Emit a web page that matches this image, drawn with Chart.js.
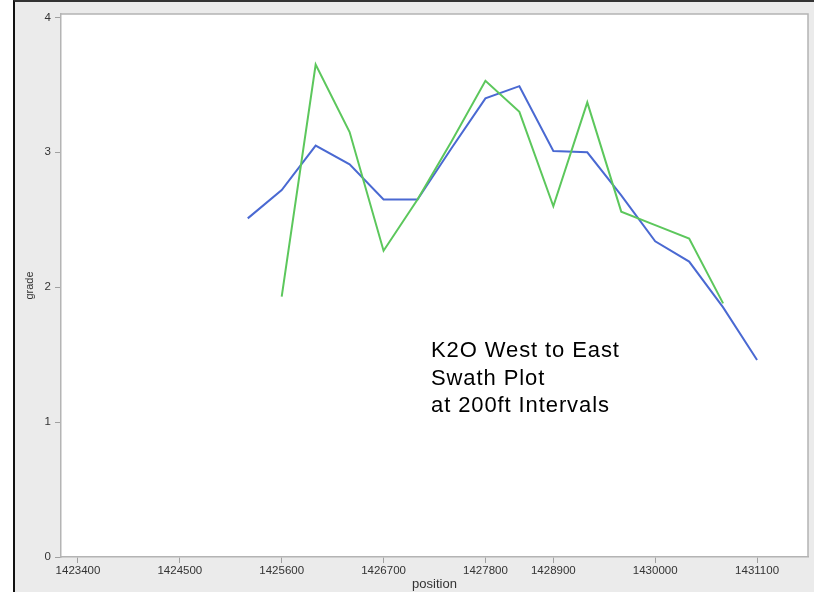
<!DOCTYPE html>
<html>
<head>
<meta charset="utf-8">
<script src="https://cdn.jsdelivr.net/npm/chart.js@4/dist/chart.umd.min.js"></script>
<style>
    body { margin: 0; background: #fff; }
    .wrap { position: relative; width: 814px; height: 592px; overflow: hidden; }
    .frame {
        position: absolute; left: 13px; top: 0; width: 801px; height: 592px;
        box-sizing: border-box; background: #ebebeb;
        border-left: 2px solid #111; border-top: 2px solid #333;
    }
    canvas { position: absolute; left: 0; top: 0; }
    .note {
        position: absolute; left: 431px; top: 336px;
        font: 22px "Liberation Sans", Arial, sans-serif; line-height: 27.5px;
        letter-spacing: 0.9px; color: #000;
    }
</style>
</head>
<body>
<div class="wrap">
    <div class="frame"></div>
    <canvas id="swath" width="814" height="592"></canvas>
    <div class="note">K2O West to East<br>Swath Plot<br>at 200ft Intervals</div>
</div>
<script>
// x tick labels and the sample slot each one sits on
const positionLabels = ['1423400', '1424500', '1425600', '1426700', '1427800', '1428900', '1430000', '1431100'];
const positionSlots = [0, 3, 6, 9, 12, 14, 17, 20];
const gradeTicks = [0, 1, 2, 3, 4];

// blue series starts at slot 5, green at slot 6
const blueStart = 5;
const blueGrade = [2.51, 2.72, 3.05, 2.91, 2.65, 2.65, 3.03, 3.40, 3.49, 3.01, 3.00, 2.68, 2.34, 2.19, 1.85, 1.46];
const greenStart = 6;
const greenGrade = [1.93, 3.65, 3.15, 2.27, 2.65, 3.08, 3.53, 3.30, 2.60, 3.37, 2.56, 2.46, 2.36, 1.88];

function toPoints(start, values) {
    return values.map((v, i) => ({ x: start + i, y: v }));
}

const plotBox = {
    id: 'plotBox',
    beforeDraw(chart) {
        const { ctx, chartArea: a } = chart;
        ctx.save();
        ctx.fillStyle = '#fff';
        ctx.fillRect(a.left, a.top, a.right - a.left, a.bottom - a.top);
        ctx.restore();
    },
    afterDraw(chart) {
        const { ctx, chartArea: a } = chart;
        ctx.save();
        ctx.strokeStyle = '#b4b4b4';
        ctx.lineWidth = 1.5;
        ctx.beginPath();
        ctx.moveTo(a.left, a.top);
        ctx.lineTo(a.right, a.top);
        ctx.lineTo(a.right, a.bottom);
        ctx.stroke();
        ctx.restore();
    }
};

const tickFont = { family: '"Liberation Sans", Arial, sans-serif', size: 11.5 };

new Chart(document.getElementById('swath'), {
    type: 'line',
    data: {
        datasets: [{
            data: toPoints(greenStart, greenGrade),
            borderColor: '#5cc75c',
            borderWidth: 2,
            pointRadius: 0,
            tension: 0
        }, {
            data: toPoints(blueStart, blueGrade),
            borderColor: '#4a69d2',
            borderWidth: 2,
            pointRadius: 0,
            tension: 0
        }]
    },
    options: {
        responsive: false,
        animation: false,
        layout: { padding: { left: 13, right: 6, top: 14, bottom: 0 } },
        plugins: {
            legend: { display: false },
            tooltip: { enabled: false }
        },
        scales: {
            x: {
                type: 'linear',
                min: -0.5,
                max: 21.5,
                afterBuildTicks: (scale) => {
                    scale.ticks = positionSlots.map(v => ({ value: v }));
                },
                afterFit: (scale) => { scale.height = 35; },
                ticks: {
                    autoSkip: false,
                    maxRotation: 0,
                    padding: 1,
                    color: '#333',
                    font: tickFont,
                    callback: (value) => positionLabels[positionSlots.indexOf(value)]
                },
                grid: { drawOnChartArea: false, tickLength: 6, color: '#a0a0a0' },
                border: { color: '#b4b4b4', width: 1.5 },
                title: {
                    display: true,
                    text: 'position',
                    color: '#333',
                    font: { family: '"Liberation Sans", Arial, sans-serif', size: 13 },
                    padding: { top: 0, bottom: 0 }
                }
            },
            y: {
                min: 0,
                max: 4.025,
                afterBuildTicks: (scale) => {
                    scale.ticks = gradeTicks.map(v => ({ value: v }));
                },
                afterFit: (scale) => { scale.width = 48; },
                ticks: { padding: 4, color: '#333', font: tickFont },
                grid: { drawOnChartArea: false, tickLength: 6, color: '#a0a0a0' },
                border: { color: '#b4b4b4', width: 1.5 },
                title: {
                    display: true,
                    text: 'grade',
                    color: '#333',
                    font: { family: '"Liberation Sans", Arial, sans-serif', size: 11 },
                    padding: { top: 10, bottom: 0 }
                }
            }
        }
    },
    plugins: [plotBox]
});
</script>
</body>
</html>
